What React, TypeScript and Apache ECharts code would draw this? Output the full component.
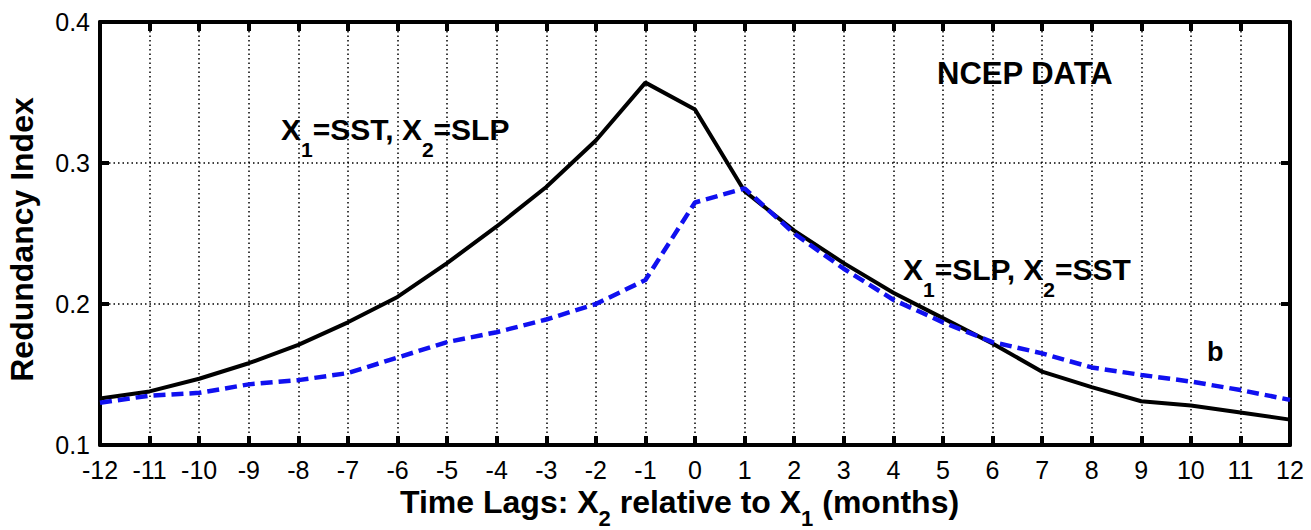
import React, { useEffect, useRef } from "react";
import * as echarts from "echarts";

const lags = [-12, -11, -10, -9, -8, -7, -6, -5, -4, -3, -2, -1, 0, 1, 2, 3, 4, 5, 6, 7, 8, 9, 10, 11, 12];
const sstSlp = [0.133, 0.138, 0.147, 0.158, 0.171, 0.187, 0.205, 0.229, 0.255, 0.283, 0.316, 0.357, 0.338, 0.28, 0.252, 0.229, 0.208, 0.19, 0.172, 0.152, 0.141, 0.131, 0.128, 0.123, 0.118];
const slpSst = [0.13, 0.135, 0.137, 0.143, 0.146, 0.151, 0.162, 0.173, 0.18, 0.189, 0.2, 0.217, 0.272, 0.282, 0.25, 0.225, 0.203, 0.187, 0.173, 0.165, 0.155, 0.1497, 0.145, 0.139, 0.132];
const yTicks = [0.1, 0.2, 0.3, 0.4];

const FONT = "'Liberation Sans', Arial, sans-serif";

export default function App() {
  const ref = useRef<HTMLDivElement>(null);
  useEffect(() => {
    const chart = echarts.init(ref.current!, null, { renderer: "svg" });
    const black = "#000";
    const grid = { left: 100, right: 21, top: 22, bottom: 85, containLabel: false, outerBoundsMode: "none" };
    const axisLine = { show: true, onZero: false, lineStyle: { color: black, width: 4 } };
    const axisTick = { show: true, inside: true, length: 9, lineStyle: { color: black, width: 4 } };
    const splitLine = { show: true, lineStyle: { color: black, width: 1.5, type: [1.5, 3] } };
    const richSub = (F: number, S: number, d: number) => ({
      m: { fontSize: F, fontWeight: "bold", fontFamily: FONT, color: black, lineHeight: F + 2, verticalAlign: "top" },
      s: {
        fontSize: S, fontWeight: "bold", fontFamily: FONT, color: black, lineHeight: S + 2,
        verticalAlign: "top", padding: [Math.round(d + (F + 2) / 2 - (S + 2) / 2), 0, 0, 0],
      },
    });
    chart.setOption({
      animation: false,
      backgroundColor: "#fff",
      grid,
      xAxis: [
        {
          type: "value", min: lags[0], max: lags[lags.length - 1], interval: 1,
          axisLine, axisTick,
          axisLabel: { color: black, fontSize: 25, fontFamily: FONT, margin: 12 },
          splitLine,
        },
        {
          type: "value", min: lags[0], max: lags[lags.length - 1], interval: 1, position: "top",
          axisLine, axisTick,
          axisLabel: { show: false }, splitLine: { show: false },
        },
      ],
      yAxis: [
        {
          type: "value", min: yTicks[0], max: yTicks[yTicks.length - 1], interval: 0.1,
          axisLine, axisTick,
          axisLabel: { color: black, fontSize: 25, fontFamily: FONT, margin: 10, formatter: (v: number) => v.toFixed(1) },
          splitLine,
          name: "Redundancy Index", nameLocation: "middle", nameGap: 62, nameRotate: 90,
          nameTextStyle: { fontSize: 32, fontWeight: "bold", fontFamily: FONT, color: black, padding: [0, 12, 0, 0] },
        },
        {
          type: "value", min: yTicks[0], max: yTicks[yTicks.length - 1], interval: 0.1, position: "right",
          axisLine, axisTick,
          axisLabel: { show: false }, splitLine: { show: false },
        },
      ],
      series: [
        {
          type: "line", data: lags.map((l, i) => [l, sstSlp[i]]), showSymbol: false, symbol: "none",
          lineStyle: { color: black, width: 4 }, z: 3,
        },
        {
          type: "line", data: lags.map((l, i) => [l, slpSst[i]]), showSymbol: false, symbol: "none",
          lineStyle: { color: "#1010f0", width: 4.5, type: [12, 6] }, z: 4,
        },
      ],
      graphic: [
        {
          type: "text", left: 400, top: 486,
          style: {
            text: "{m|Time Lags: X}{s|2}{m| relative to X}{s|1}{m| (months)}",
            rich: richSub(32, 22, 16),
          },
        },
        {
          type: "text", left: 937, top: 58,
          style: { text: "NCEP DATA", font: `bold 31px ${FONT}`, fill: black },
        },
        {
          type: "text", left: 281, top: 114,
          style: { text: "{m|X}{s|1}{m|=SST, X}{s|2}{m|=SLP}", rich: richSub(30, 21, 20) },
        },
        {
          type: "text", left: 903, top: 254,
          style: { text: "{m|X}{s|1}{m|=SLP, X}{s|2}{m|=SST}", rich: richSub(30, 21, 20) },
        },
        {
          type: "text", left: 1207, top: 338,
          style: { text: "b", font: `bold 27px ${FONT}`, fill: black },
        },
      ],
    });
    return () => chart.dispose();
  }, []);
  return <div ref={ref} style={{ position: "fixed", left: 0, top: 0, width: 1311, height: 530, background: "#fff" }} />;
}
